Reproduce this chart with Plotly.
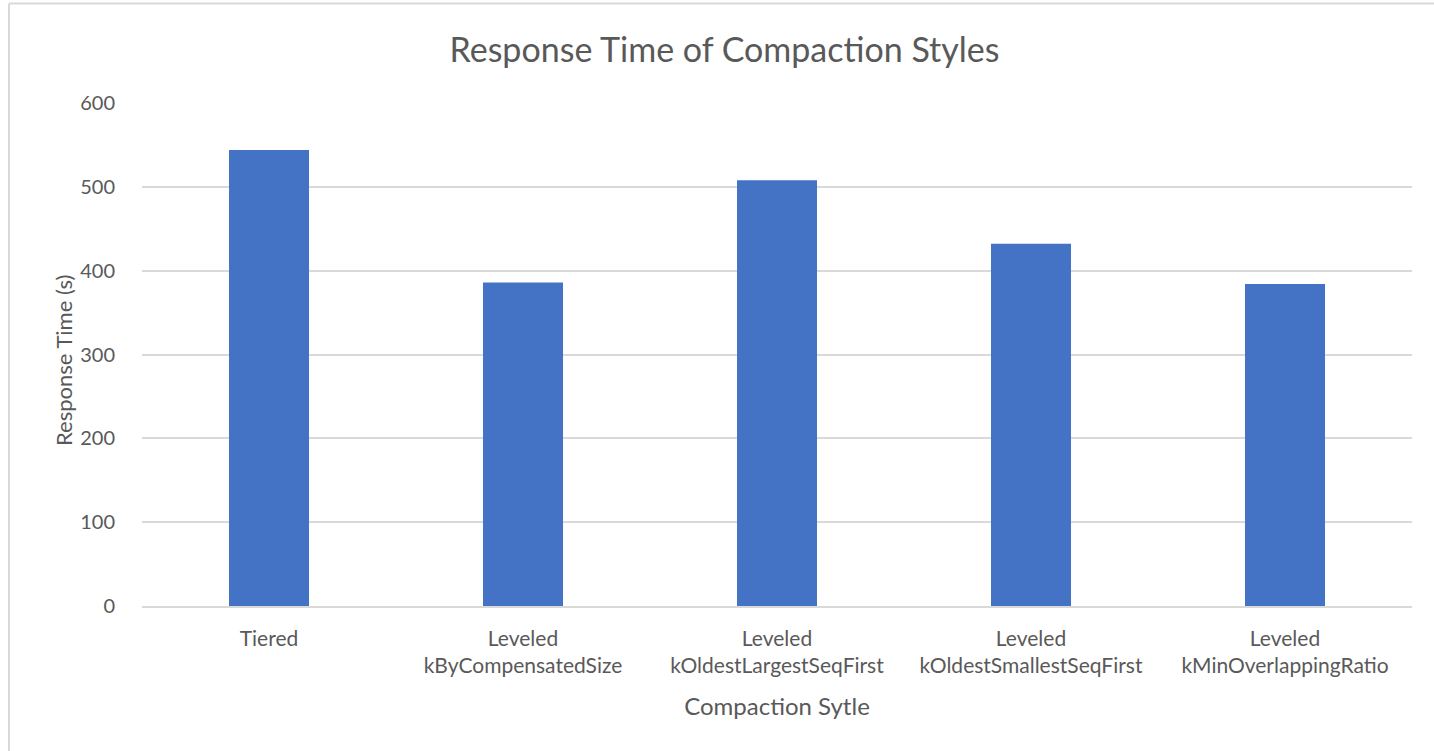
import plotly.graph_objects as go

# Compaction styles and their measured response times (seconds)
categories = [
    "Tiered",
    "Leveled<br>kByCompensatedSize",
    "Leveled<br>kOldestLargestSeqFirst",
    "Leveled<br>kOldestSmallestSeqFirst",
    "Leveled<br>kMinOverlappingRatio",
]
response_time = [544, 386, 508, 432, 384]
y_ticks = [0, 100, 200, 300, 400, 500, 600]

W, H = 1434, 751
L, R, T, B = 142, 22, 103, 145
pw, ph = W - L - R, H - T - B

FONT = "Lato, Open Sans, sans-serif"
TEXT = "#595959"

fig = go.Figure(
    go.Bar(
        x=categories,
        y=response_time,
        marker=dict(color="#4472C4", line=dict(width=0)),
        hoverinfo="x+y",
    )
)

# frame lines around the chart (left and top edges)
def px_x(p):
    return (p - L) / pw

def px_y(p):
    return (H - B - p) / ph

fig.add_shape(type="line", xref="paper", yref="paper",
              x0=px_x(9), x1=px_x(9), y0=px_y(751), y1=px_y(3.5),
              line=dict(color="#D9D9D9", width=2))
fig.add_shape(type="line", xref="paper", yref="paper",
              x0=px_x(9), x1=px_x(1434), y0=px_y(3.5), y1=px_y(3.5),
              line=dict(color="#D9D9D9", width=2))

# y-axis title placed as rotated text
fig.add_annotation(
    text="Response Time (s)",
    xref="paper", yref="paper",
    x=px_x(63), y=px_y(361),
    xanchor="center", yanchor="middle",
    textangle=-90,
    showarrow=False,
    font=dict(family=FONT, size=22, color=TEXT),
)

fig.update_layout(
    width=W,
    height=H,
    margin=dict(l=L, r=R, t=T, b=B),
    paper_bgcolor="white",
    plot_bgcolor="white",
    bargap=0.685,
    showlegend=False,
    font=dict(family=FONT, color=TEXT, size=21),
    title=dict(
        text="Response Time of Compaction Styles",
        x=(447 + 1002) / 2 / W,
        xanchor="center",
        y=1 - 50 / H,
        yanchor="middle",
        font=dict(family=FONT, size=34, color=TEXT),
    ),
    xaxis=dict(
        title=dict(text="Compaction Sytle", font=dict(size=24, color=TEXT), standoff=22),
        tickfont=dict(size=21, color=TEXT),
        showgrid=False,
        showline=True,
        linecolor="#D9D9D9",
        linewidth=1.5,
        ticks="outside",
        ticklen=13,
        tickcolor="white",
    ),
    yaxis=dict(
        range=[0, 600],
        tickvals=y_ticks,
        tickfont=dict(size=20, color=TEXT),
        gridcolor="#D9D9D9",
        gridwidth=1.5,
        zeroline=False,
        ticks="outside",
        ticklen=22,
        tickcolor="white",
    ),
)

fig.write_html("out.html")
